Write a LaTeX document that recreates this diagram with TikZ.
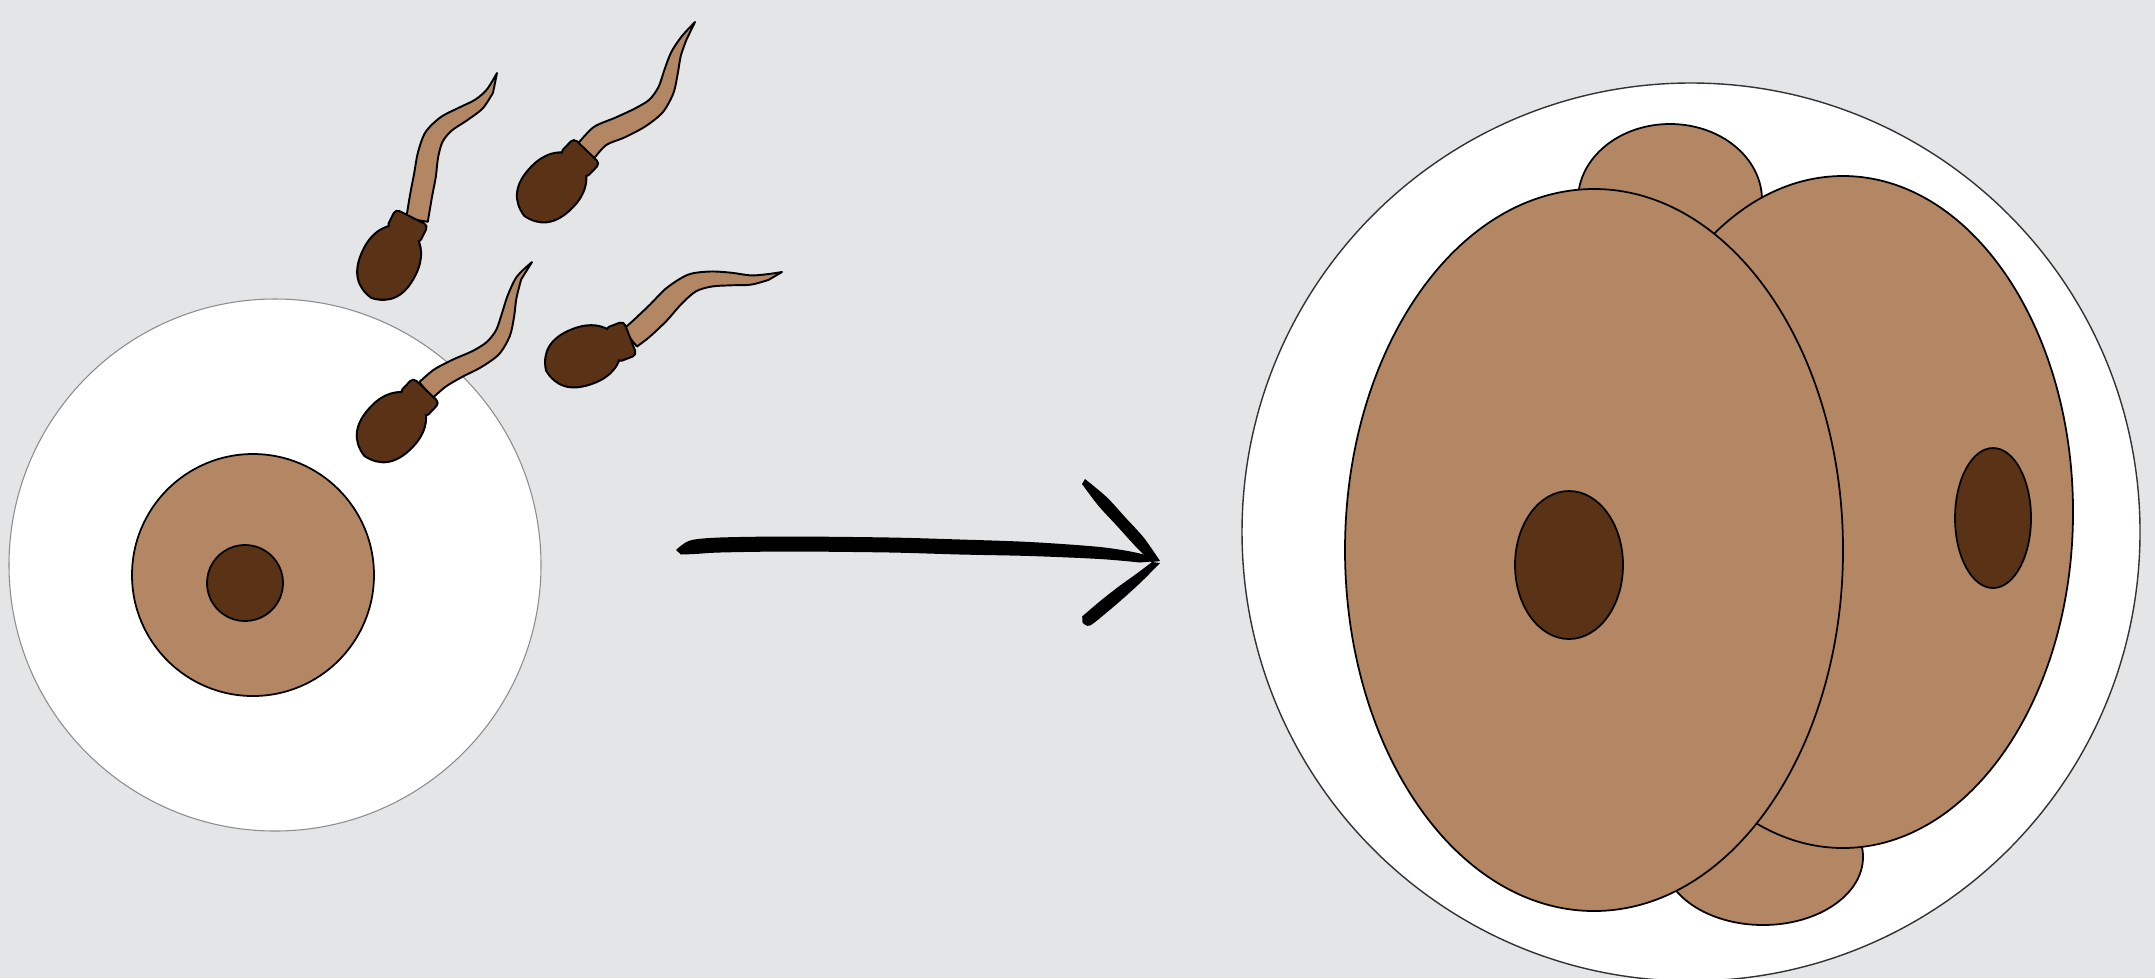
\documentclass[tikz,border=0pt]{standalone}
\usepackage{tikz}
\definecolor{bg}{RGB}{228,229,231}
\definecolor{cellbrown}{RGB}{179,135,100}
\definecolor{darkbrown}{RGB}{90,51,22}

\begin{document}
\begin{tikzpicture}[x=0.01cm, y=-0.01cm,
        cell/.style={fill=cellbrown, draw=black, line width=0.5pt},
        nucleus/.style={fill=darkbrown, draw=black, line width=0.5pt},
        tail/.style={fill=cellbrown, draw=black, line width=0.55pt, line join=round},
        brush/.style={fill=black},
        head/.pic={
            \draw[line width=1.2pt, line join=round] (0,0) .. controls (3,-17) and (14,-28) .. (39,-28)
                .. controls (58,-28) and (68,-20) .. (73,-12) -- (73,12)
                .. controls (68,20) and (58,28) .. (39,28) .. controls (14,28) and (3,17) .. cycle;
            \draw[line width=1.2pt, rounded corners=1pt] (70,-17) rectangle (88,17);
            \fill[darkbrown] (0,0) .. controls (3,-17) and (14,-28) .. (39,-28)
                .. controls (58,-28) and (68,-20) .. (73,-12) -- (73,12)
                .. controls (68,20) and (58,28) .. (39,28) .. controls (14,28) and (3,17) .. cycle;
            \fill[darkbrown, rounded corners=1pt] (70,-17) rectangle (88,17);
        }]
    \fill[bg] (0,0) rectangle (2155,978);
    \useasboundingbox (0,0) rectangle (2155,978);

    % egg
    \draw[fill=white, draw=black!45, line width=0.3pt] (275,565) circle (266);
    \draw[cell] (253,575) circle (121);
    \draw[nucleus] (245,583) circle (38);

    % tails
    \draw[tail] plot[smooth] coordinates {(406.2,218.2) (410.2,194) (414.2,173.2) (417.9,152.6) (425.5,132.1) (440.6,117.2) (459.1,107.6) (475.3,99.6) (487,89.3) (497,73)}
        -- plot[smooth] coordinates {(493,92.7) (482.7,108.4) (466.9,120.4) (451.4,130.8) (442.5,141.9) (438.1,157.4) (435.8,176.8) (431.8,198) (427.8,221.8)} -- cycle;
    \draw[tail] plot[smooth] coordinates {(578,143.5) (593.8,127) (615.4,117.6) (634.7,108.6) (649.3,99.7) (658.6,86.8) (664.3,70.2) (671.2,52.2) (681.6,36.5) (695,22)}
        -- plot[smooth] coordinates {(686.5,39.5) (680.8,55.8) (677.7,73.8) (673.4,93.2) (662.7,112.3) (645.3,126.4) (624.6,137.4) (606.2,145) (594,158.5)} -- cycle;
    \draw[tail] plot[smooth] coordinates {(419.2,382.2) (434.1,369.5) (453.5,359.3) (472.4,351.1) (486.9,341.9) (496.2,329.9) (501.9,313.5) (507.6,295.7) (516.8,276.7) (532,262)}
        -- plot[smooth] coordinates {(521.2,279.3) (516.4,298.3) (514.1,316.5) (509.8,336.1) (499.1,354.1) (481.6,366.9) (462.5,376.7) (445.9,386.5) (432.8,397.8)} -- cycle;
    \draw[tail] plot[smooth] coordinates {(623.1,329.5) (633.3,320.4) (649.8,304.8) (666.8,287.8) (688.2,274.6) (710.2,271.5) (731.1,272.7) (750.8,275.4) (767.3,274.2) (782,272)}
        -- plot[smooth] coordinates {(768.7,279.8) (751.2,284.6) (730.9,285.3) (711.8,286.5) (695.8,291.4) (681.2,304.2) (666.2,321.2) (648.7,337.6) (636.9,346.5)} -- cycle;

    % heads
    \pic[rotate=63.4] at (372,297) {head};
    \pic[rotate=46] at (525,215) {head};
    \pic[rotate=46.5] at (365,455) {head};
    \pic[rotate=21] at (547,370) {head};

    % arrow
    \fill[brush] plot[smooth] coordinates {(676,550) (690,540.5) (720,537.5) (790,536.5) (890,537.5) (960,539.5) (1030,542) (1100,547) (1140,553.5) (1158,561)}
        -- plot[smooth] coordinates {(1140,562.5) (1100,559) (1030,556) (960,554.5) (890,552.5) (790,551.5) (720,552.5) (695,554) (681,554.5)} -- cycle;
    \fill[brush] plot[smooth] coordinates {(1085,479) (1106.9,497.3) (1125.4,517.5) (1143.9,537.8) (1160,561)}
        -- plot[smooth] coordinates {(1151,562) (1135.1,545.9) (1116.6,525.5) (1098.1,505.4) (1082,484)} -- cycle;
    \fill[brush] plot[smooth] coordinates {(1160,563) (1142.9,580.3) (1125.8,596.1) (1108.1,611.3) (1089.8,625.6) (1082.5,622.5)}
        -- plot[smooth] coordinates {(1082.2,616.4) (1099.9,601.3) (1118.2,586.9) (1137.1,573.3) (1152,562)} -- cycle;

    % two-cell embryo
    \draw[fill=white, draw=black!80, line width=0.4pt] (1691,532) circle (449);
    \draw[cell] (1670,200) ellipse (92 and 76);
    \draw[cell] (1763,857) ellipse (100 and 68);
    \draw[cell] (1843,512) ellipse (230 and 336);
    \draw[cell] (1594,550) ellipse (249 and 361);
    \draw[nucleus] (1569,565) ellipse (54 and 74);
    \draw[nucleus] (1993,518) ellipse (38 and 70);
\end{tikzpicture}
\end{document}
